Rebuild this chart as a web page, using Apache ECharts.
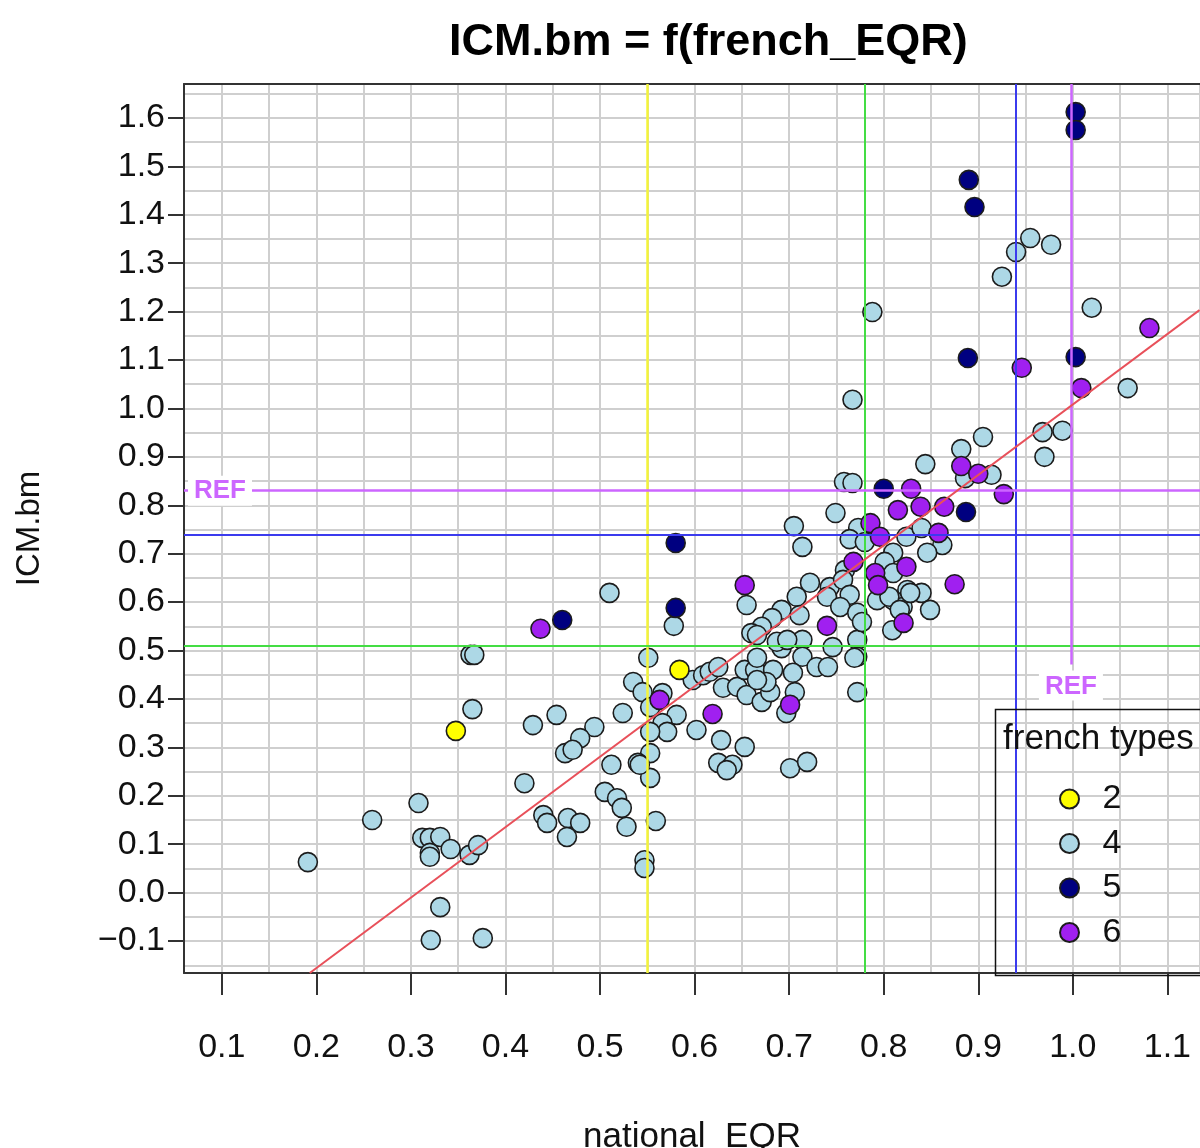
<!DOCTYPE html>
<html>
<head>
<meta charset="utf-8">
<script src="https://cdn.jsdelivr.net/npm/echarts@6/dist/echarts.min.js"></script>
<style>
html,body{margin:0;padding:0;background:#fff;overflow:hidden;}
#chart{width:1200px;height:1148px;}
</style>
</head>
<body>
<div id="chart"></div>
<script>
// ---- data ----
const chartTitle = 'ICM.bm = f(french_EQR)';
const xName = 'national_EQR';
const yName = 'ICM.bm';
const legendTitle = 'french types';
const typeNames = ['2', '4', '5', '6'];
const xTicks = [0.1, 0.2, 0.3, 0.4, 0.5, 0.6, 0.7, 0.8, 0.9, 1.0, 1.1];
const yTicks = [-0.1, 0.0, 0.1, 0.2, 0.3, 0.4, 0.5, 0.6, 0.7, 0.8, 0.9, 1.0, 1.1, 1.2, 1.3, 1.4, 1.5, 1.6];
const xRange = [0.06, 1.1345];
const yRange = [-0.166, 1.670];

const type2 = [[0.3475, 0.334], [0.584, 0.460]];
const type5 = [[1.003, 1.612], [1.003, 1.575], [0.890, 1.472], [0.896, 1.416], [0.889, 1.104], [1.003, 1.106],
  [0.800, 0.834], [0.887, 0.786], [0.580, 0.722], [0.580, 0.588], [0.460, 0.563]];
const type6 = [[1.081, 1.166], [0.946, 1.084], [1.009, 1.042], [0.882, 0.881], [0.900, 0.865], [0.927, 0.823],
  [0.829, 0.834], [0.864, 0.797], [0.839, 0.797], [0.815, 0.790], [0.786, 0.763], [0.796, 0.735],
  [0.858, 0.743], [0.768, 0.683], [0.824, 0.673], [0.791, 0.660], [0.794, 0.635], [0.875, 0.637],
  [0.740, 0.551], [0.821, 0.557], [0.653, 0.635], [0.437, 0.545], [0.563, 0.398], [0.619, 0.369], [0.701, 0.388]];
const type4 = [[0.955, 1.352], [0.940, 1.323], [0.977, 1.338], [0.925, 1.272], [1.020, 1.208], [0.788, 1.199],
  [1.058, 1.042], [0.767, 1.018], [0.905, 0.941], [0.968, 0.951], [0.989, 0.954], [0.970, 0.900],
  [0.882, 0.916], [0.844, 0.885], [0.886, 0.856], [0.914, 0.863],
  [0.758, 0.848], [0.767, 0.846], [0.749, 0.784], [0.705, 0.757], [0.714, 0.714], [0.773, 0.753],
  [0.764, 0.730], [0.780, 0.724], [0.824, 0.735], [0.840, 0.753], [0.862, 0.718], [0.846, 0.702],
  [0.810, 0.702], [0.801, 0.683], [0.810, 0.660], [0.825, 0.625], [0.840, 0.619], [0.849, 0.584],
  [0.810, 0.604], [0.820, 0.590], [0.809, 0.542], [0.772, 0.522], [0.772, 0.487], [0.772, 0.414],
  [0.722, 0.640], [0.708, 0.611], [0.692, 0.584], [0.682, 0.567], [0.671, 0.549], [0.660, 0.536],
  [0.759, 0.666], [0.743, 0.631], [0.757, 0.646], [0.740, 0.611], [0.764, 0.615], [0.754, 0.590],
  [0.711, 0.573], [0.772, 0.578], [0.777, 0.559], [0.793, 0.604], [0.806, 0.611], [0.817, 0.584],
  [0.828, 0.619], [0.746, 0.507], [0.714, 0.522], [0.714, 0.487], [0.729, 0.466], [0.741, 0.466],
  [0.769, 0.485], [0.704, 0.454], [0.706, 0.414],
  [0.655, 0.594], [0.578, 0.551], [0.551, 0.485], [0.535, 0.435], [0.545, 0.414], [0.566, 0.412],
  [0.553, 0.383], [0.581, 0.367], [0.566, 0.350], [0.571, 0.332], [0.553, 0.332], [0.602, 0.336],
  [0.553, 0.288], [0.540, 0.268], [0.553, 0.237], [0.628, 0.315], [0.653, 0.301], [0.625, 0.268],
  [0.640, 0.264], [0.634, 0.253], [0.701, 0.257], [0.719, 0.270], [0.697, 0.371], [0.598, 0.439],
  [0.609, 0.449], [0.616, 0.456], [0.625, 0.466], [0.630, 0.423], [0.645, 0.425], [0.653, 0.460],
  [0.664, 0.460], [0.655, 0.408], [0.671, 0.394], [0.680, 0.414], [0.683, 0.460], [0.666, 0.485],
  [0.676, 0.435], [0.666, 0.532], [0.692, 0.505], [0.687, 0.518], [0.698, 0.522], [0.666, 0.439],
  [0.510, 0.619], [0.524, 0.371], [0.494, 0.342], [0.479, 0.319], [0.463, 0.288], [0.471, 0.295],
  [0.454, 0.367], [0.429, 0.346], [0.420, 0.226], [0.512, 0.264], [0.542, 0.264], [0.505, 0.208],
  [0.518, 0.195], [0.523, 0.175], [0.528, 0.136], [0.547, 0.067], [0.547, 0.051], [0.559, 0.148],
  [0.440, 0.160], [0.444, 0.144], [0.466, 0.154], [0.479, 0.144], [0.465, 0.115],
  [0.363, 0.491], [0.367, 0.491], [0.365, 0.379], [0.308, 0.185], [0.312, 0.113], [0.320, 0.113],
  [0.331, 0.115], [0.320, 0.082], [0.320, 0.074], [0.342, 0.090], [0.362, 0.078], [0.371, 0.098],
  [0.331, -0.030], [0.321, -0.098], [0.376, -0.094], [0.259, 0.150], [0.191, 0.063]];

// fitted line end points
const fitLine = [[0.193, -0.166], [1.134, 1.203]];
// reference lines
const vLines = [0.551, 0.781, 0.941];
const hLines = [0.745, 0.512];
const refX = 0.998;
const refY = 0.830;
const refXEnd = 0.471;

// ---- chart ----
const FONT = 'Liberation Sans';
const colors = {'2': '#ffff00', '4': '#add8e6', '5': '#000080', '6': '#a020f0'};
const chart = echarts.init(document.getElementById('chart'), null, {renderer: 'canvas'});

function tickLabel(v) {
  return (Math.round(v * 10) / 10).toFixed(1).replace('-', '\u2212');
}

function scatter(name, data) {
  return {
    name: name, type: 'scatter', data: data, symbol: 'circle', symbolSize: 19, z: 3,
    itemStyle: {color: colors[name], borderColor: '#1c1c1c', borderWidth: 1.6, opacity: 1},
    xAxisIndex: 0, yAxisIndex: 0
  };
}

const refLabel = {
  show: true, formatter: 'REF', color: '#cc66ff', fontFamily: FONT, fontWeight: 'bold',
  fontSize: 26, backgroundColor: '#ffffff', padding: [3, 6, 1, 6]
};

const markData = [];
vLines.forEach((v, i) => markData.push({xAxis: v, lineStyle: {type: 'solid', color: ['#f4f43a', '#44dd44', '#3b3bee'][i], width: i === 0 ? 2.5 : 2}}));
hLines.forEach((v, i) => markData.push({yAxis: v, lineStyle: {type: 'solid', color: ['#3b3bee', '#44dd44'][i], width: 2}}));
markData.push({yAxis: refY, lineStyle: {type: 'solid', color: '#cc66ff', width: 2.5},
  label: Object.assign({}, refLabel, {position: 'insideStart', distance: 4})});
markData.push([
  {coord: [refX, yRange[1]], lineStyle: {type: 'solid', color: '#cc66ff', width: 2.5}},
  {coord: [refX, refXEnd], lineStyle: {type: 'solid', color: '#cc66ff', width: 2.5},
    label: Object.assign({}, refLabel, {position: 'end', distance: 6})}
]);

const gridLineStyle = {color: '#cfcfcf', width: 2};
const axisLineStyle = {color: '#333', width: 2};

const option = {
  animation: false,
  backgroundColor: '#ffffff',
  textStyle: {fontFamily: FONT},
  title: {
    text: chartTitle, left: 444, top: 15,
    textStyle: {fontFamily: FONT, fontWeight: 'bold', fontSize: 45, color: '#000'}
  },
  grid: {left: 184, top: 84, right: 0, height: 889, show: false, containLabel: false, outerBoundsMode: 'none'},
  xAxis: [{
    type: 'value', min: xRange[0], max: xRange[1], splitNumber: 11, position: 'bottom',
    name: xName, nameLocation: 'middle', nameGap: 147,
    nameTextStyle: {fontFamily: FONT, fontSize: 35, color: '#111'},
    axisLine: {show: true, onZero: false, lineStyle: axisLineStyle},
    axisTick: {show: true, length: 22, customValues: xTicks, lineStyle: {color: '#333', width: 2}},
    axisLabel: {show: true, margin: 58, fontSize: 34, color: '#111', fontFamily: FONT, customValues: xTicks, formatter: tickLabel},
    splitLine: {show: false}
  }, {
    type: 'value', min: xRange[0], max: xRange[1], splitNumber: 22, position: 'top',
    axisLine: {show: true, onZero: false, lineStyle: axisLineStyle}, axisTick: {show: false}, axisLabel: {show: false},
    splitLine: {show: true, lineStyle: gridLineStyle}
  }],
  yAxis: [{
    type: 'value', min: yRange[0], max: yRange[1], splitNumber: 18, position: 'left',
    name: yName, nameLocation: 'middle', nameGap: 138, nameRotate: 90,
    nameTextStyle: {fontFamily: FONT, fontSize: 33, color: '#111'},
    axisLine: {show: true, onZero: false, lineStyle: axisLineStyle},
    axisTick: {show: true, length: 16, customValues: yTicks, lineStyle: {color: '#333', width: 2}},
    axisLabel: {show: true, margin: 19, fontSize: 34, color: '#111', fontFamily: FONT, customValues: yTicks, formatter: tickLabel},
    splitLine: {show: false}
  }, {
    type: 'value', min: yRange[0], max: yRange[1], splitNumber: 36, position: 'right',
    axisLine: {show: false}, axisTick: {show: false}, axisLabel: {show: false},
    splitLine: {show: true, lineStyle: gridLineStyle}
  }],
  legend: {
    data: typeNames, orient: 'vertical', left: 1054, top: 776,
    itemWidth: 56, itemHeight: 19, itemGap: 8.5, icon: 'circle',
    textStyle: {fontFamily: FONT, fontSize: 34, color: '#111', lineHeight: 36},
    selectedMode: false
  },
  graphic: [
    {type: 'rect', left: 993, top: 707, shape: {width: 300, height: 266}, style: {fill: 'none', stroke: '#111', lineWidth: 1.5}, z: 10},
    {type: 'text', left: 1003, top: 722, style: {text: legendTitle, font: '35px "Liberation Sans"', fill: '#111'}, z: 10}
  ],
  series: [
    scatter('4', type4),
    scatter('2', type2),
    scatter('5', type5),
    scatter('6', type6),
    {
      name: 'fit', type: 'line', data: fitLine, showSymbol: false, symbol: 'none', z: 5,
      lineStyle: {color: '#e8505a', width: 2}, silent: true,
      xAxisIndex: 0, yAxisIndex: 0,
      markLine: {silent: true, symbol: ['none', 'none'], label: {show: false}, data: markData, animation: false}
    }
  ]
};
chart.setOption(option);
</script>
</body>
</html>
